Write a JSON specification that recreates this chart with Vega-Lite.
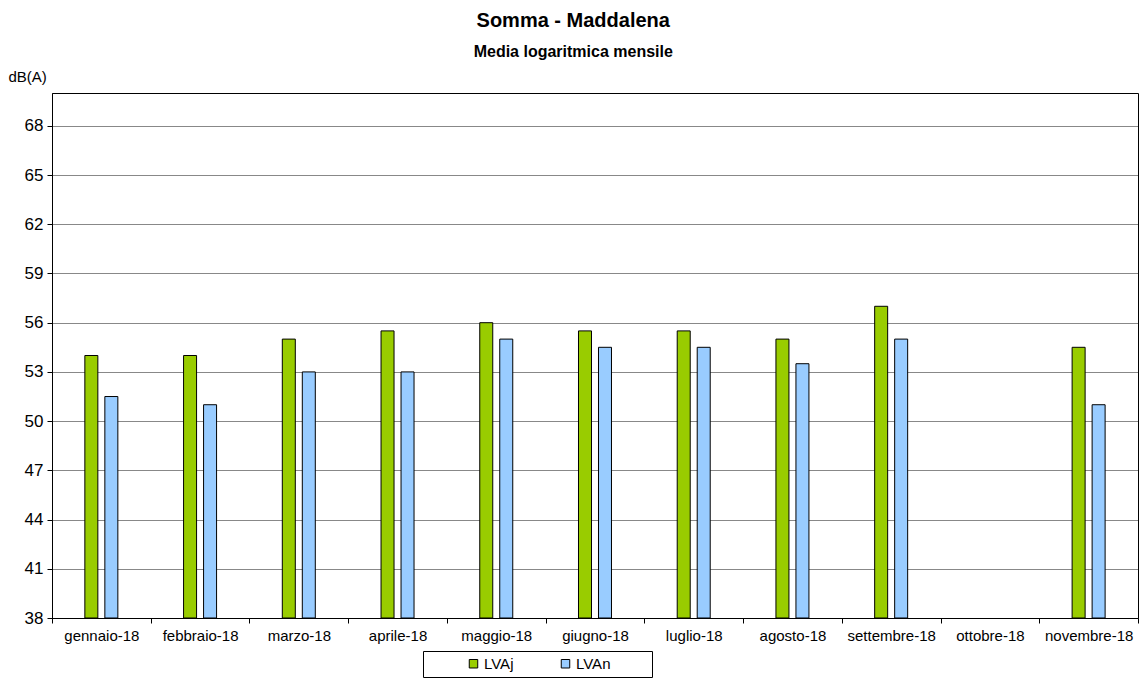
{
  "$schema": "https://vega.github.io/schema/vega-lite/v6.json",
  "width": 1086,
  "height": 525,
  "autosize": {"type": "none"},
  "padding": {"left": 52, "top": 93, "right": 7, "bottom": 82},
  "background": "white",
  "title": {
    "text": "Somma - Maddalena",
    "subtitle": "Media logaritmica mensile",
    "anchor": "middle",
    "frame": "bounds",
    "font": "Liberation Sans",
    "fontSize": 20,
    "fontWeight": "bold",
    "subtitleFont": "Liberation Sans",
    "subtitleFontSize": 16,
    "subtitleFontWeight": "bold",
    "subtitleColor": "black",
    "color": "black",
    "subtitlePadding": 13,
    "offset": 9
  },
  "data": {
    "values": [
      {"mese": "gennaio-18", "serie": "LVAj", "valore": 54},
      {"mese": "gennaio-18", "serie": "LVAn", "valore": 51.5},
      {"mese": "febbraio-18", "serie": "LVAj", "valore": 54},
      {"mese": "febbraio-18", "serie": "LVAn", "valore": 51},
      {"mese": "marzo-18", "serie": "LVAj", "valore": 55},
      {"mese": "marzo-18", "serie": "LVAn", "valore": 53},
      {"mese": "aprile-18", "serie": "LVAj", "valore": 55.5},
      {"mese": "aprile-18", "serie": "LVAn", "valore": 53},
      {"mese": "maggio-18", "serie": "LVAj", "valore": 56},
      {"mese": "maggio-18", "serie": "LVAn", "valore": 55},
      {"mese": "giugno-18", "serie": "LVAj", "valore": 55.5},
      {"mese": "giugno-18", "serie": "LVAn", "valore": 54.5},
      {"mese": "luglio-18", "serie": "LVAj", "valore": 55.5},
      {"mese": "luglio-18", "serie": "LVAn", "valore": 54.5},
      {"mese": "agosto-18", "serie": "LVAj", "valore": 55},
      {"mese": "agosto-18", "serie": "LVAn", "valore": 53.5},
      {"mese": "settembre-18", "serie": "LVAj", "valore": 57},
      {"mese": "settembre-18", "serie": "LVAn", "valore": 55},
      {"mese": "novembre-18", "serie": "LVAj", "valore": 54.5},
      {"mese": "novembre-18", "serie": "LVAn", "valore": 51}
    ]
  },
  "mark": {"type": "bar", "stroke": "black", "strokeWidth": 1},
  "encoding": {
    "x": {
      "field": "mese",
      "type": "nominal",
      "sort": null,
      "scale": {
        "domain": ["gennaio-18", "febbraio-18", "marzo-18", "aprile-18", "maggio-18", "giugno-18", "luglio-18", "agosto-18", "settembre-18", "ottobre-18", "novembre-18"],
        "paddingInner": 0,
        "paddingOuter": 0
      },
      "axis": {
        "title": null,
        "labelAngle": 0,
        "labelFont": "Liberation Sans",
        "labelFontSize": 15,
        "labelColor": "black",
        "labelPadding": 5,
        "tickBand": "extent",
        "tickColor": "black",
        "tickSize": 5,
        "domainColor": "black",
        "grid": false
      }
    },
    "xOffset": {
      "field": "serie",
      "type": "nominal",
      "scale": {"range": [29.35, 69.35], "paddingInner": 0.35, "paddingOuter": 0.175}
    },
    "y": {
      "field": "valore",
      "type": "quantitative",
      "scale": {"domain": [38, 70], "nice": false, "zero": false},
      "axis": {
        "values": [38, 41, 44, 47, 50, 53, 56, 59, 62, 65, 68],
        "title": "dB(A)",
        "titleAngle": 0,
        "titleX": -44,
        "titleY": -9,
        "titleAlign": "left",
        "titleBaseline": "bottom",
        "titleFont": "Liberation Sans",
        "titleFontSize": 15,
        "titleFontWeight": "normal",
        "titleColor": "black",
        "labelFont": "Liberation Sans",
        "labelFontSize": 17,
        "labelColor": "black",
        "labelPadding": 4,
        "tickColor": "black",
        "tickSize": 5,
        "domainColor": "black",
        "gridColor": "#111",
        "gridDash": [1, 1],
        "gridOpacity": 1
      }
    },
    "y2": {"datum": 38},
    "color": {
      "field": "serie",
      "type": "nominal",
      "scale": {"domain": ["LVAj", "LVAn"], "range": ["#99CC00", "#99CCFF"]},
      "legend": {
        "title": null,
        "orient": "none",
        "direction": "horizontal",
        "legendX": 371,
        "legendY": 558,
        "strokeColor": "black",
        "fillColor": "white",
        "padding": 5,
        "symbolType": "square",
        "symbolSize": 72,
        "symbolStrokeColor": "black",
        "symbolStrokeWidth": 1,
        "symbolOffset": 38,
        "columnPadding": 6,
        "labelFont": "Liberation Sans",
        "labelFontSize": 15,
        "labelColor": "black",
        "labelOffset": 3,
        "labelExpr": "datum.label == 'LVAn' ? 'LVAn\u00a0\u00a0\u00a0\u00a0\u00a0\u00a0\u2800' : datum.label"
      }
    }
  },
  "config": {
    "view": {"stroke": "black", "strokeWidth": 1}
  }
}
